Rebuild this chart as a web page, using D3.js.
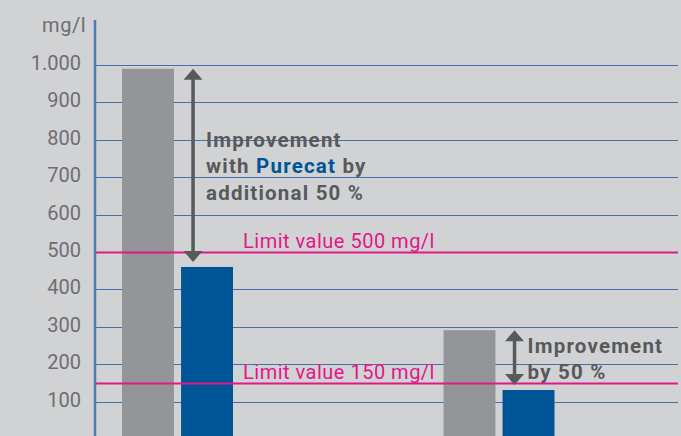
<!DOCTYPE html>
<html lang="en">
<head>
    <meta charset="UTF-8">
    <title>Purecat</title>
    <script src="https://d3js.org/d3.v7.min.js"></script>
    <style>
        body { margin: 0; background: #d1d2d4; }
        svg { display: block; font-family: Roboto, "DejaVu Sans", sans-serif; }
    </style>
</head>
<body>
    <script>
var groups = ['limit 500', 'limit 150'];
var before = [990, 291];   // grey bars
var after = [460, 131];    // blue bars
var limits = [500, 150];
var limitLabels = ['Limit value 500 mg/l', 'Limit value 150 mg/l'];
var tickValues = [100, 200, 300, 400, 500, 600, 700, 800, 900, 1000];
var notes = [
    [['Improvement'], ['with ', 'Purecat', ' by'], ['additional 50 %']],
    [['Improvement'], ['by 50 %']]
];

var width = 681;
var height = 436;

var svg = d3.select('body')
            .append('svg')
            .attr('width', width)
            .attr('height', height);

svg.append('rect')
   .attr('width', width)
   .attr('height', height)
   .attr('fill', '#d1d2d4');

var yScale = d3.scaleLinear()
               .domain([0, 1000])
               .range([439, 65]);

var xScale = d3.scalePoint() // group centres
               .domain(groups)
               .range([177.5, 499]);

var subScale = d3.scaleBand()
                 .domain(['before', 'after'])
                 .range([-55.5, 55.5])
                 .paddingInner(0.12);

var fmt = function(d) { return d === 1000 ? '1.000' : String(d); };

// grid lines
svg.append('g')
   .selectAll('line')
   .data(tickValues)
   .enter()
   .append('line')
   .attr('x1', 95)
   .attr('x2', 678)
   .attr('y1', function(d) { return Math.round(yScale(d)) + 0.5; })
   .attr('y2', function(d) { return Math.round(yScale(d)) + 0.5; })
   .attr('stroke', '#4670ab')
   .attr('stroke-width', 1);

// y axis labels
var yAxis = d3.axisLeft(yScale)
              .tickValues(tickValues)
              .tickFormat(fmt)
              .tickSize(0)
              .tickPadding(0);

var axisG = svg.append('g')
   .attr('transform', 'translate(81, -2)')
   .call(yAxis);
axisG.select('.domain').remove();
axisG.selectAll('text')
     .attr('font-family', 'Roboto, sans-serif')
     .attr('font-size', 20)
     .attr('fill', '#6d6e71');

svg.append('text')
   .attr('x', 86)
   .attr('y', 32)
   .attr('text-anchor', 'end')
   .attr('font-size', 20)
   .attr('letter-spacing', 0.5)
   .attr('fill', '#6d6e71')
   .text('mg/l');

// bars
var bars = svg.append('g');
bars.selectAll('.before')
    .data(before)
    .enter()
    .append('rect')
    .attr('x', function(d, i) { return xScale(groups[i]) + subScale('before'); })
    .attr('y', function(d) { return yScale(d); })
    .attr('width', subScale.bandwidth())
    .attr('height', function(d) { return yScale(0) - yScale(d); })
    .attr('fill', '#939598');

bars.selectAll('.after')
    .data(after)
    .enter()
    .append('rect')
    .attr('x', function(d, i) { return xScale(groups[i]) + subScale('after'); })
    .attr('y', function(d) { return yScale(d); })
    .attr('width', subScale.bandwidth())
    .attr('height', function(d) { return yScale(0) - yScale(d); })
    .attr('fill', '#005596');

// axis line
svg.append('line')
   .attr('x1', 95)
   .attr('x2', 95)
   .attr('y1', 20)
   .attr('y2', height)
   .attr('stroke', '#4f7cb6')
   .attr('stroke-width', 2.5);

// limit lines
svg.append('g')
   .selectAll('line')
   .data(limits)
   .enter()
   .append('line')
   .attr('x1', 96)
   .attr('x2', 678)
   .attr('y1', function(d) { return yScale(d) + 0.5; })
   .attr('y2', function(d) { return yScale(d) + 0.5; })
   .attr('stroke', '#e4168a')
   .attr('stroke-width', 2);

svg.append('g')
   .selectAll('text')
   .data(limits)
   .enter()
   .append('text')
   .attr('x', 243)
   .attr('y', function(d) { return yScale(d) - 4; })
   .attr('font-size', 20)
   .attr('letter-spacing', 0.5)
   .attr('fill', '#e4168a')
   .text(function(d, i) { return limitLabels[i]; });

// arrows
var arrowCol = '#58595b';
groups.forEach(function(g, i) {
    var ax = xScale(g) + subScale('after') + 12;
    var top = yScale(before[i]);
    var bot = yScale(after[i]) - 5;
    var hw = 9.5, hh = 11;
    svg.append('line')
       .attr('x1', ax).attr('x2', ax)
       .attr('y1', top + hh - 1).attr('y2', bot - hh + 1)
       .attr('stroke', arrowCol)
       .attr('stroke-width', 3.5);
    svg.append('path')
       .attr('d', 'M' + ax + ',' + top + 'L' + (ax + hw) + ',' + (top + hh) + 'L' + (ax - hw) + ',' + (top + hh) + 'Z')
       .attr('fill', arrowCol);
    svg.append('path')
       .attr('d', 'M' + ax + ',' + bot + 'L' + (ax + hw) + ',' + (bot - hh) + 'L' + (ax - hw) + ',' + (bot - hh) + 'Z')
       .attr('fill', arrowCol);

    var tx = ax + 13;
    var ty = i === 0 ? 146.5 : 352.5;
    var t = svg.append('text')
               .attr('font-size', 20.5)
               .attr('font-weight', 'bold')
               .attr('letter-spacing', 1.2)
               .attr('fill', arrowCol);
    notes[i].forEach(function(parts, j) {
        parts.forEach(function(p, k) {
            var s = t.append('tspan').text(p);
            if (k === 0) s.attr('x', tx).attr('y', ty + j * 26.5);
            if (p === 'Purecat') s.attr('fill', '#005596');
        });
    });
});
    </script>
</body>
</html>
